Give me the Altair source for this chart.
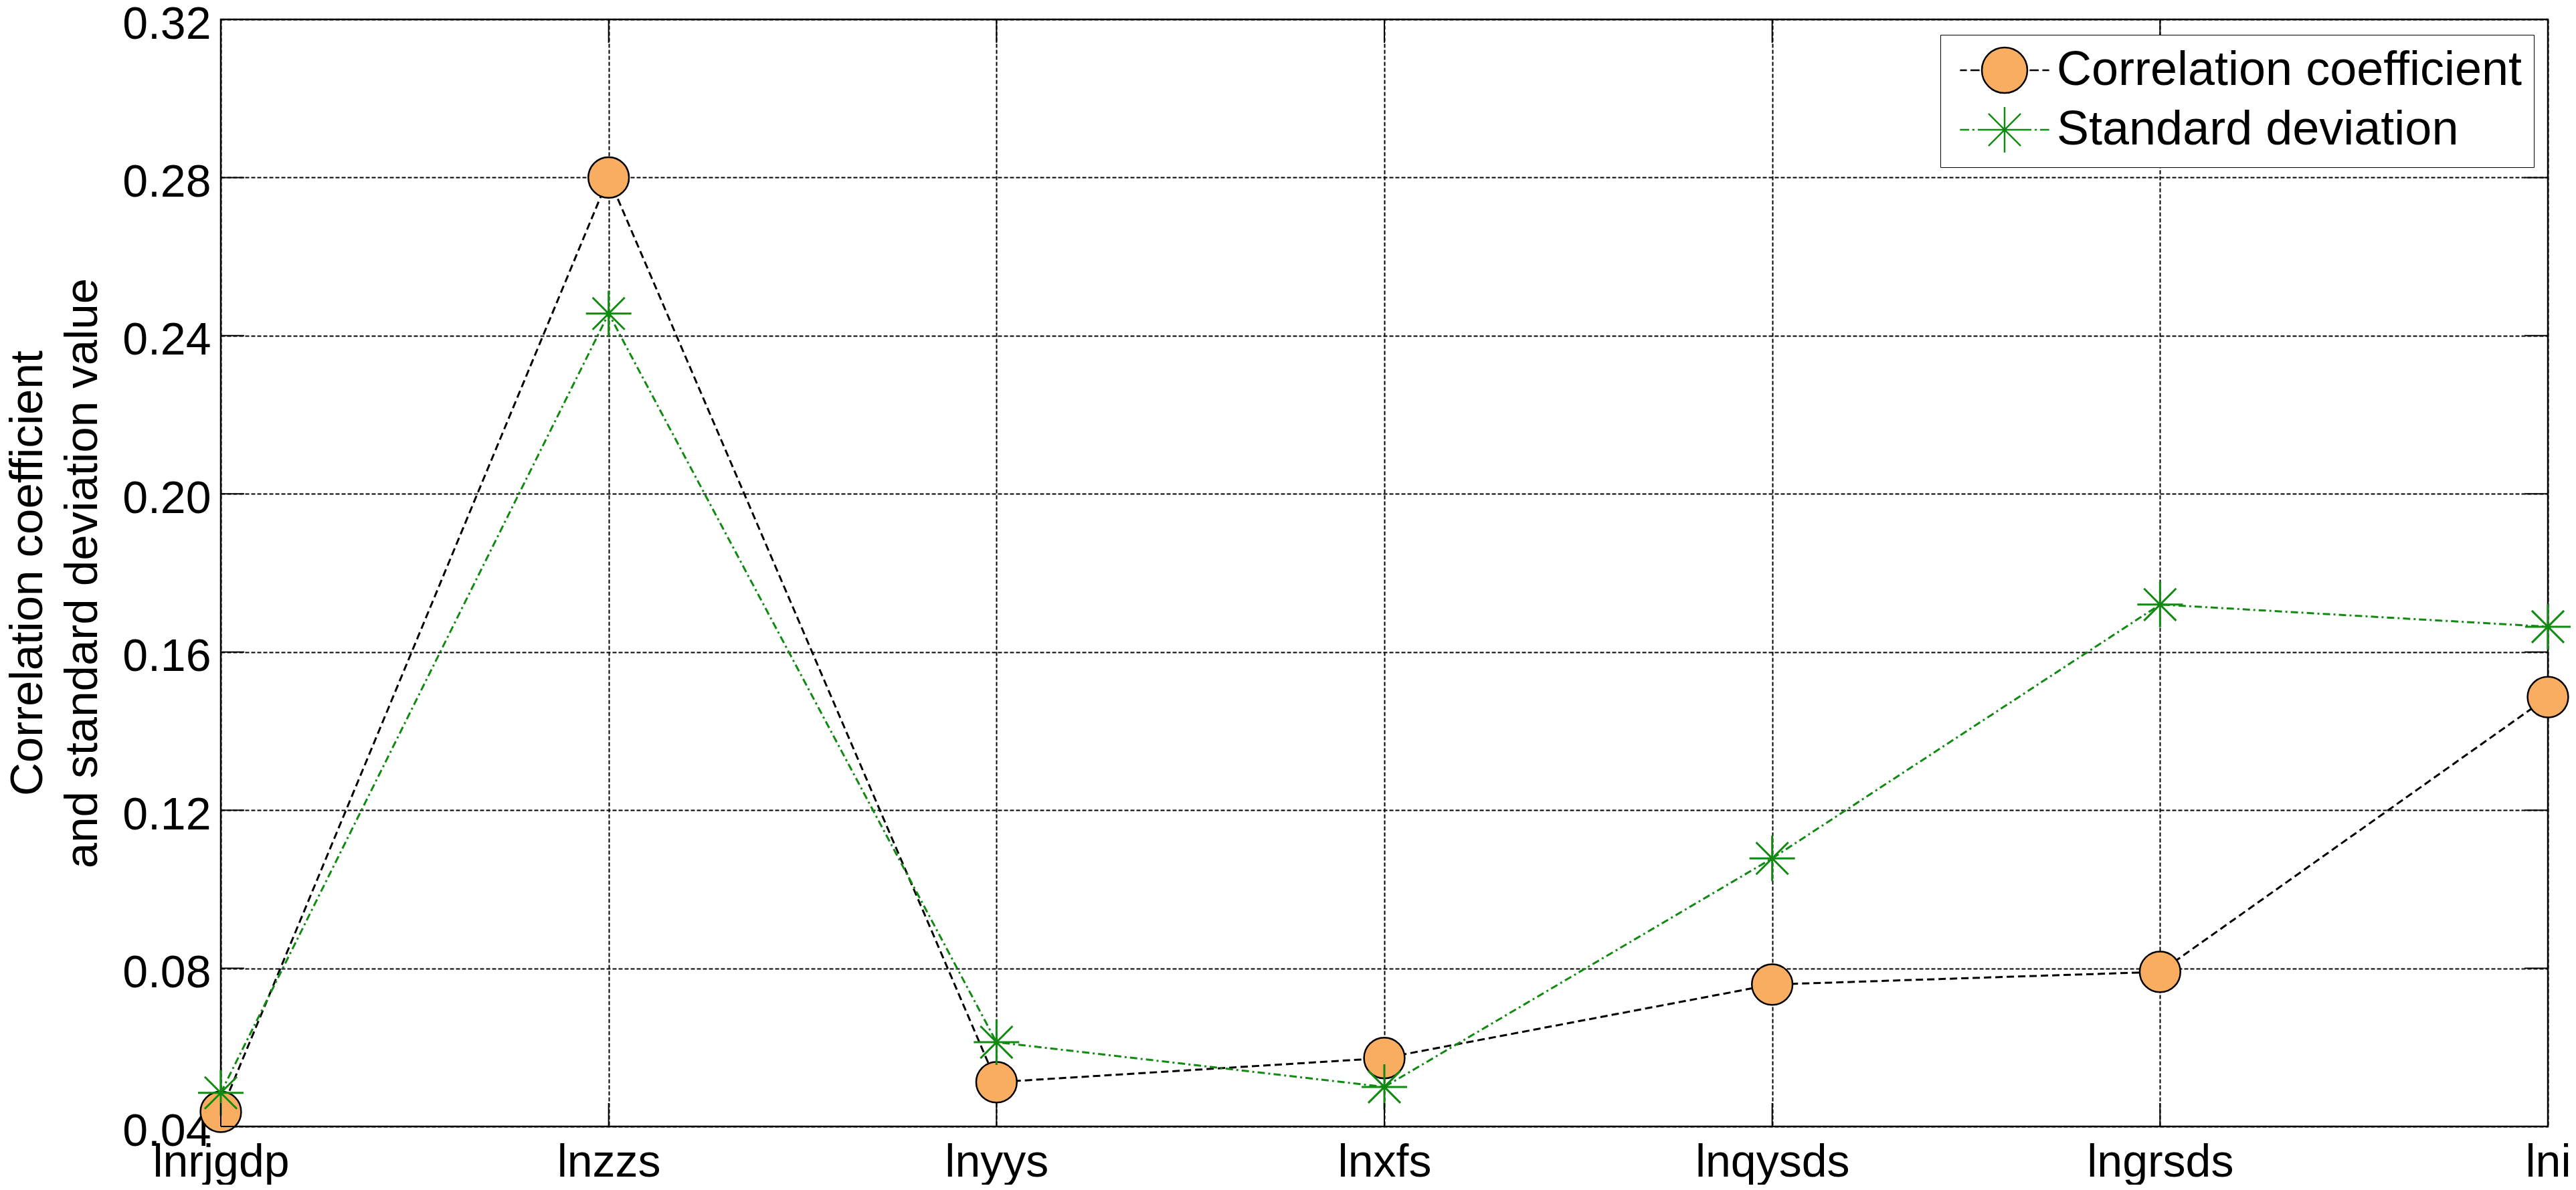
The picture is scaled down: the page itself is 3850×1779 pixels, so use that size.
import altair as alt
import pandas as pd

# ---- data ----
categories = ["lnrjgdp", "lnzzs", "lnyys", "lnxfs", "lnqysds", "lngrsds", "lni"]
corr_values = [0.0437, 0.2800, 0.0512, 0.0573, 0.0759, 0.0791, 0.1486]
std_values = [0.0485, 0.2456, 0.0613, 0.0500, 0.1078, 0.1720, 0.1664]
y_ticks = [0.04, 0.08, 0.12, 0.16, 0.20, 0.24, 0.28, 0.32]
series_names = ["Correlation coefficient", "Standard deviation"]
y_title = ["Correlation coefficient", "and standard deviation value"]

# ---- styling ----
W, H = 3478, 1655
TICK = 35
FONT = "Liberation Sans"
ORANGE = "#F9AD61"
GREEN = "#118A11"

df = pd.DataFrame({"cat": categories, "corr": corr_values, "std": std_values})
tick_df = pd.DataFrame({"t": y_ticks})
leg_df = pd.DataFrame({"series": series_names})

xscale = alt.Scale(type="point", padding=0)
yscale = alt.Scale(domain=[0.04, 0.32], nice=False, zero=False)

x_axis = alt.Axis(title=None, labelAngle=0, labelFont=FONT, labelFontSize=68,
                  labelColor="black", labelPadding=20, labelLimit=0, ticks=False, domain=False,
                  grid=True, gridColor="black", gridDash=[6, 3], gridWidth=2,
                  gridOpacity=1, labelFlush=False, labelOverlap=False)
y_axis = alt.Axis(title=y_title, values=y_ticks, format=".2f", labelFont=FONT, labelFontSize=68,
                  labelColor="black", labelPadding=15, labelOffset=8, labelLimit=0,
                  ticks=False, domain=False,
                  grid=True, gridColor="black", gridDash=[6, 3], gridWidth=2, gridOpacity=1,
                  labelFlush=False, labelOverlap=False, titleFont=FONT, titleFontSize=69,
                  titleFontWeight="normal", titleColor="black", titlePadding=24,
                  titleLineHeight=82)

def X():
    return alt.X("cat:N", sort=categories, scale=xscale, axis=x_axis)

def Y(field):
    return alt.Y(field, scale=yscale, axis=y_axis)

corr_line = alt.Chart(df).mark_line(color="black", strokeWidth=3, strokeDash=[11, 6]).encode(
    x=X(), y=Y("corr:Q"))
corr_pts = alt.Chart(df).mark_point(shape="circle", filled=True, fill=ORANGE, stroke="black",
                                    strokeWidth=2.5, size=3700, opacity=1).encode(
    x=X(), y=Y("corr:Q"))

std_line = alt.Chart(df).mark_line(color=GREEN, strokeWidth=3, strokeDash=[11, 5, 3, 5]).encode(
    x=X(), y=Y("std:Q"))
STAR = "M-1,0H1M0,-1V1M-0.707,-0.707L0.707,0.707M-0.707,0.707L0.707,-0.707"
std_pts = alt.Chart(df).mark_point(shape=STAR, filled=False, color=GREEN, strokeWidth=3,
                                   size=4624, opacity=1).encode(
    x=X(), y=Y("std:Q"))

# inward tick marks (MATLAB style) on all four sides
tick_l = alt.Chart(tick_df).mark_rule(color="black", strokeWidth=2).encode(
    y=Y("t:Q"), x=alt.value(0), x2=alt.value(TICK))
tick_r = alt.Chart(tick_df).mark_rule(color="black", strokeWidth=2).encode(
    y=Y("t:Q"), x=alt.value(W - TICK), x2=alt.value(W))
tick_b = alt.Chart(df).mark_rule(color="black", strokeWidth=2).encode(
    x=X(), y=alt.value(H - TICK), y2=alt.value(H))
tick_t = alt.Chart(df).mark_rule(color="black", strokeWidth=2).encode(
    x=X(), y=alt.value(0), y2=alt.value(TICK))

# legend symbols: marker (radius 1) + line segments extending to +-1.96
LEG_CORR = ("M-1.96,0H-1.66M-1.5,0H-1.1M1.1,0H1.5M1.66,0H1.96"
            "M1,0A1,1 0 1,1 -1,0A1,1 0 1,1 1,0Z")
LEG_STD = ("M-1.96,0H-1.56M-1.42,0H-1.32M-1.18,0H1.18M1.32,0H1.42M1.56,0H1.96"
           "M0,-1V1M-0.707,-0.707L0.707,0.707M-0.707,0.707L0.707,-0.707")

leg = alt.Legend(title=None, orient="none", legendX=2570, legendY=23, padding=17,
                 strokeColor="black", fillColor="white", labelFont=FONT, labelFontSize=72,
                 labelColor="black", labelLimit=0, labelOffset=42, symbolSize=4624,
                 symbolStrokeWidth=2.5, rowPadding=11, symbolOffset=43)

legend_layer = alt.Chart(leg_df).mark_point(filled=True, opacity=1).encode(
    shape=alt.Shape("series:N", scale=alt.Scale(domain=series_names, range=[LEG_CORR, LEG_STD]),
                    legend=leg),
    fill=alt.Fill("series:N", scale=alt.Scale(domain=series_names, range=[ORANGE, "transparent"]),
                  legend=leg),
    stroke=alt.Stroke("series:N", scale=alt.Scale(domain=series_names, range=["black", GREEN]),
                      legend=leg),
).transform_filter("false")

chart = alt.layer(
    corr_line, corr_pts, std_line, std_pts, tick_l, tick_r, tick_b, tick_t, legend_layer
).properties(
    width=W, height=H,
    autosize=alt.AutoSizeParams(type="none"),
    padding={"left": 322, "top": 21, "right": 34, "bottom": 87},
    background="white",
).configure_view(stroke="black", strokeWidth=2.5)

chart.save("out.html", embed_options={"renderer": "svg", "actions": False})
